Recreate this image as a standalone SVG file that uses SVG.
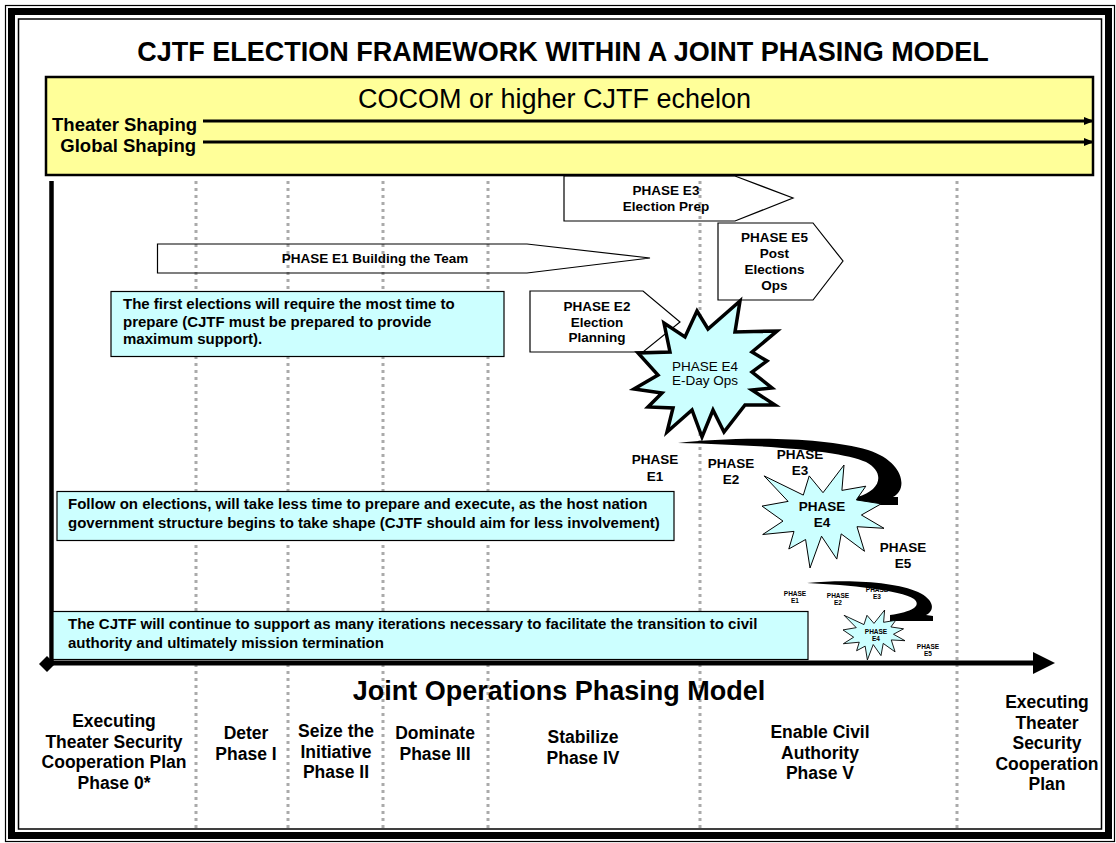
<svg xmlns="http://www.w3.org/2000/svg" width="1116" height="843" viewBox="0 0 1116 843">
<style>
text{font-family:"Liberation Sans",Arial,sans-serif;fill:#000}
.b{font-weight:bold}
.dot{stroke:#AAAAAA;stroke-width:3;stroke-dasharray:3 4;fill:none}
.pent{fill:none;stroke:#000;stroke-width:1.2}
.box{fill:#CCFFFF;stroke:#000;stroke-width:1.2}
.lbl{font-size:13.5px;font-weight:bold;text-anchor:middle}
.bt{font-size:15px;font-weight:bold}
.bot{font-size:17.5px;font-weight:bold;text-anchor:middle}
.star{fill:#CCFFFF;stroke:#000}
</style>
<defs>
<path id="seal1" d="M61,27.7 L47.2,10.9 L41.3,30.1 L2.1,10.9 L26.1,36.4 L0,41.1 L21,56.1 L0.7,69.5 L32,66.4 L26.8,84 L43.6,74.5 L48,103 L59.5,71.2 L74.8,94.1 L79.2,68.9 L102.5,86.3 L95,61.7 L122,63.3 L99.4,50 L119.2,38.8 L94.3,34.9 L103.8,21.2 L79.9,25.4 L82,0 Z"/>
<marker id="ah" markerWidth="10" markerHeight="8" refX="9" refY="4" orient="auto" markerUnits="userSpaceOnUse"><path d="M0,0 L10,4 L0,8 Z" fill="#000"/></marker>
</defs>

<!-- frame -->
<g id="frame" fill="none" stroke="#000">
<rect x="5.5" y="5.5" width="1109" height="836" stroke-width="1.2"/>
<rect x="11.5" y="11.5" width="1097" height="824" stroke-width="7"/>
<rect x="18.5" y="19" width="1083" height="810" stroke-width="1.5"/>
</g>

<g id="title"><text x="563" y="61" class="b" font-size="27" text-anchor="middle">CJTF ELECTION FRAMEWORK WITHIN A JOINT PHASING MODEL</text></g>

<!-- COCOM band -->
<g id="cocom">
<rect x="46" y="77" width="1047" height="98" fill="#FFFF99" stroke="#000" stroke-width="2.5"/>
<text x="554.5" y="108" font-size="27" text-anchor="middle">COCOM or higher CJTF echelon</text>
<text x="197" y="131" class="b" font-size="18.5" text-anchor="end">Theater Shaping</text>
<text x="196" y="152" class="b" font-size="18.5" text-anchor="end">Global Shaping</text>
</g>

<!-- dotted phase separators -->
<g id="separators">
<line class="dot" x1="196" y1="181" x2="196" y2="830"/>
<line class="dot" x1="288" y1="181" x2="288" y2="830"/>
<line class="dot" x1="383" y1="181" x2="383" y2="830"/>
<line class="dot" x1="488" y1="181" x2="488" y2="830"/>
<line class="dot" x1="700" y1="181" x2="700" y2="830"/>
<line class="dot" x1="957" y1="181" x2="957" y2="830"/>
</g>

<!-- connectors / axes -->
<g id="connectors">
<line x1="203" y1="121" x2="1093" y2="121" stroke="#000" stroke-width="3" marker-end="url(#ah)"/>
<line x1="203" y1="142" x2="1093" y2="142" stroke="#000" stroke-width="3" marker-end="url(#ah)"/>
<line x1="51.5" y1="181" x2="51.5" y2="663" stroke="#000" stroke-width="4.5"/>
<line x1="45" y1="663" x2="1036" y2="663" stroke="#000" stroke-width="5"/>
<polygon points="1033,652 1055,663 1033,674" fill="#000"/>
<polygon points="39,664 47,656 55,664 47,672" fill="#000"/>
<path d="M678,443 C730,437 820,436 868,450 C905,462 908,490 893,497 L898,497 L898,505 L857,505 L857,497 C882,490 885,472 866,462 C840,450 760,445 678,443 Z" fill="#000"/>
<path d="M807,583 C850,579 895,582 918,592 C935,600 935,611 926,615 L933,616 L933,621 L890,621 L890,615 C912,612 922,606 914,599 C900,590 850,585 807,583 Z" fill="#000"/>
</g>

<!-- Election phase arrows -->
<g id="e1">
<polygon class="pent" points="157.5,244 527,244 650,258 527,273 157.5,273"/>
<text x="375" y="263" class="lbl">PHASE E1 Building the Team</text>
</g>
<g id="e3">
<polygon class="pent" points="564,176 735,176 793,198 735,221 564,221"/>
<text x="666" y="195" class="lbl">PHASE E3</text>
<text x="666" y="211" class="lbl">Election Prep</text>
</g>
<g id="e5">
<polygon class="pent" points="718,223 813,223 843,261 813,300 718,300"/>
<text x="774.5" y="242" class="lbl">PHASE E5</text>
<text x="774.5" y="258" class="lbl">Post</text>
<text x="774.5" y="274" class="lbl">Elections</text>
<text x="774.5" y="290" class="lbl">Ops</text>
</g>
<g id="e2">
<polygon class="pent" points="530,291 643,291 680,322 643,352 530,352"/>
<text x="597" y="311" class="lbl">PHASE E2</text>
<text x="597" y="327" class="lbl">Election</text>
<text x="597" y="342" class="lbl">Planning</text>
</g>

<!-- Notes -->
<g id="note1">
<rect class="box" x="111" y="291.5" width="393" height="65"/>
<text class="bt" x="123" y="309">The first elections will require the most time to</text>
<text class="bt" x="123" y="326.5">prepare (CJTF must be prepared to provide</text>
<text class="bt" x="123" y="344">maximum support).</text>
</g>
<g id="note2">
<rect class="box" x="57" y="491.5" width="617" height="49"/>
<text class="bt" x="68" y="509">Follow on elections, will take less time to prepare and execute, as the host nation</text>
<text class="bt" x="68" y="528">government structure begins to take shape (CJTF should aim for less involvement)</text>
</g>
<g id="note3">
<rect class="box" x="53" y="611.5" width="755" height="48"/>
<text class="bt" x="68" y="629">The CJTF will continue to support as many iterations necessary to facilitate the transition to civil</text>
<text class="bt" x="68" y="648">authority and ultimately mission termination</text>
</g>

<!-- Big E-Day star -->
<g id="e4big">
<polygon class="star" stroke-width="3.5" stroke-linejoin="miter" points="740,301 735,332 777,331 752,352 767,361 752,372 772,388 752,390 775,405 745,405 724,432 713,410 702,437 692,410 667,432 673,408 648,407 662,393 634,389 658,375 638,353 670,352 664,323 685,337 697,311 708,329"/>
<text x="705" y="371" font-size="13.5" text-anchor="middle" fill="#222">PHASE E4</text>
<text x="705" y="385" font-size="13.5" text-anchor="middle" fill="#222">E-Day Ops</text>
</g>

<!-- second iteration -->
<g id="iter2">
<text x="655" y="464" class="lbl">PHASE</text><text x="655" y="481" class="lbl">E1</text>
<text x="731" y="468" class="lbl">PHASE</text><text x="731" y="484" class="lbl">E2</text>
<text x="800" y="459" class="lbl">PHASE</text><text x="800" y="475" class="lbl">E3</text>
<use href="#seal1" transform="translate(762,465)" class="star" stroke-width="1"/>
<text x="822" y="511" class="lbl">PHASE</text><text x="822" y="527" class="lbl">E4</text>
<text x="903" y="552" class="lbl">PHASE</text><text x="903" y="568" class="lbl">E5</text>
</g>

<!-- third iteration -->
<g id="iter3" font-size="6.5">
<text x="795" y="596" class="b" text-anchor="middle">PHASE</text><text x="795" y="603" class="b" text-anchor="middle">E1</text>
<text x="838" y="598" class="b" text-anchor="middle">PHASE</text><text x="838" y="605" class="b" text-anchor="middle">E2</text>
<text x="877" y="592" class="b" text-anchor="middle">PHASE</text><text x="877" y="599" class="b" text-anchor="middle">E3</text>
<use href="#seal1" transform="translate(843,610) scale(0.508,0.485)" class="star" stroke-width="1.8"/>
<text x="876" y="634" class="b" text-anchor="middle">PHASE</text><text x="876" y="641" class="b" text-anchor="middle">E4</text>
<text x="928" y="649" class="b" text-anchor="middle">PHASE</text><text x="928" y="656" class="b" text-anchor="middle">E5</text>
</g>

<g id="axis-title"><text x="559" y="700" class="b" font-size="27" text-anchor="middle">Joint Operations Phasing Model</text></g>

<!-- phase labels -->
<g id="phase0"><text class="bot" x="114" y="727">Executing</text><text class="bot" x="114" y="747.5">Theater Security</text><text class="bot" x="114" y="768">Cooperation Plan</text><text class="bot" x="114" y="788.5">Phase 0*</text></g>
<g id="phase1"><text class="bot" x="246" y="739">Deter</text><text class="bot" x="246" y="759.5">Phase I</text></g>
<g id="phase2"><text class="bot" x="336" y="737">Seize the</text><text class="bot" x="336" y="757.5">Initiative</text><text class="bot" x="336" y="778">Phase II</text></g>
<g id="phase3"><text class="bot" x="435" y="739">Dominate</text><text class="bot" x="435" y="759.5">Phase III</text></g>
<g id="phase4"><text class="bot" x="583" y="743">Stabilize</text><text class="bot" x="583" y="763.5">Phase IV</text></g>
<g id="phase5"><text class="bot" x="820" y="738">Enable Civil</text><text class="bot" x="820" y="758.5">Authority</text><text class="bot" x="820" y="779">Phase V</text></g>
<g id="phase6"><text class="bot" x="1047" y="708">Executing</text><text class="bot" x="1047" y="728.5">Theater</text><text class="bot" x="1047" y="749">Security</text><text class="bot" x="1047" y="769.5">Cooperation</text><text class="bot" x="1047" y="790">Plan</text></g>
</svg>
